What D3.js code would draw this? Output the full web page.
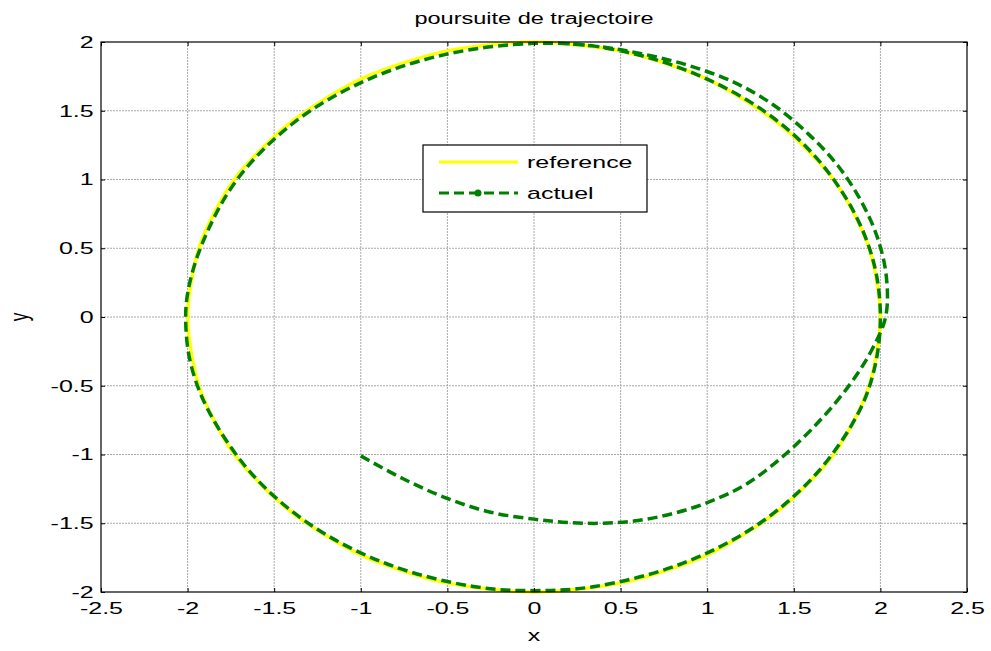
<!DOCTYPE html>
<html>
<head>
<meta charset="utf-8">
<script src="https://cdn.jsdelivr.net/npm/d3@7"></script>
<style>
body { margin: 0; background: #fff; }
text { font-family: "Liberation Sans", Arial, sans-serif; fill: #000; }
</style>
</head>
<body>
<div id="graphe"></div>
<script>
// trajectoire de reference (cercle de rayon 2)
var refX = [2.00, 1.93, 1.73, 1.41, 1.00, 0.52, 0.00, -0.52, -1.00, -1.41, -1.73, -1.93,
            -2.00, -1.93, -1.73, -1.41, -1.00, -0.52, 0.00, 0.52, 1.00, 1.41, 1.73, 1.93];
var refY = [0.00, 0.52, 1.00, 1.41, 1.73, 1.93, 2.00, 1.93, 1.73, 1.41, 1.00, 0.52,
            0.00, -0.52, -1.00, -1.41, -1.73, -1.93, -2.00, -1.93, -1.73, -1.41, -1.00, -0.52];

// trajectoire actuelle
var actuelX = [-1.00, -0.75, -0.50, -0.25, 0.00, 0.20, 0.40, 0.60, 0.80, 1.00, 1.22, 1.45, 1.66, 1.83, 1.95,
               2.03, 2.035, 1.985, 1.89, 1.755, 1.585, 1.385, 1.15, 0.89, 0.62, 0.35, 0.00,
               -0.51, -0.99, -1.40, -1.72, -1.92, -2.00, -2.01, -1.98, -1.88,
               -1.63, -1.28, -0.84, -0.35, 0.00, 0.35, 0.84, 1.28, 1.63, 1.88, 1.97,
               2.00, 1.97, 1.88, 1.73, 1.53, 1.29, 1.00, 0.68, 0.35, 0.17];
var actuelY = [-1.01, -1.18, -1.32, -1.42, -1.47, -1.495, -1.50, -1.48, -1.43, -1.35, -1.22, -1.00, -0.74, -0.48, -0.24,
               0.00, 0.285, 0.57, 0.84, 1.10, 1.33, 1.54, 1.71, 1.83, 1.915, 1.97, 1.99,
               1.91, 1.71, 1.40, 0.99, 0.52, 0.17, -0.07, -0.35, -0.68,
               -1.14, -1.52, -1.80, -1.96, -1.99, -1.96, -1.80, -1.52, -1.14, -0.68, -0.35,
               0.00, 0.35, 0.68, 1.00, 1.29, 1.53, 1.73, 1.88, 1.97, 1.99];

var ticksX = [-2.5, -2, -1.5, -1, -0.5, 0, 0.5, 1, 1.5, 2, 2.5];
var labelsX = ["-2.5", "-2", "-1.5", "-1", "-0.5", "0", "0.5", "1", "1.5", "2", "2.5"];
var ticksY = [-2, -1.5, -1, -0.5, 0, 0.5, 1, 1.5, 2];
var labelsY = ["-2", "-1.5", "-1", "-0.5", "0", "0.5", "1", "1.5", "2"];

var titre = "poursuite de trajectoire";
var nomsSeries = ["reference", "actuel"];

var largeur = 991, hauteur = 651;
var gauche = 101, droite = 967, haut = 42, bas = 592;
var etire = 1.47; // le texte de la figure est etire horizontalement

var svg = d3.select("#graphe").append("svg").attr("width", largeur).attr("height", hauteur);

var x = d3.scaleLinear().domain([-2.5, 2.5]).range([gauche, droite]);
var y = d3.scaleLinear().domain([-2, 2]).range([bas, haut]);

// grille pointillee
var grille = svg.append("g");
grille.selectAll(".gx").data(ticksX.slice(1, -1)).enter().append("line")
    .attr("x1", d => x(d)).attr("x2", d => x(d)).attr("y1", haut).attr("y2", bas)
    .attr("stroke", "#a8a8a8").attr("stroke-width", 1).attr("stroke-dasharray", "2,1");
grille.selectAll(".gy").data(ticksY.slice(1, -1)).enter().append("line")
    .attr("y1", d => y(d)).attr("y2", d => y(d)).attr("x1", gauche).attr("x2", droite)
    .attr("stroke", "#a8a8a8").attr("stroke-width", 1).attr("stroke-dasharray", "2,1");

// courbes
var refPts = refX.map((v, i) => [v, refY[i]]);
var actPts = actuelX.map((v, i) => [v, actuelY[i]]);

svg.append("path").datum(refPts)
    .attr("d", d3.line().x(d => x(d[0])).y(d => y(d[1])).curve(d3.curveCardinalClosed.tension(0.2)))
    .attr("fill", "none").attr("stroke", "#ffff00").attr("stroke-width", 3.5);

svg.append("path").datum(actPts)
    .attr("d", d3.line().x(d => x(d[0])).y(d => y(d[1])).curve(d3.curveCatmullRom.alpha(0.5)))
    .attr("fill", "none").attr("stroke", "#008000").attr("stroke-width", 3.5)
    .attr("stroke-dasharray", "10,5");

// axes (graduations vers l'interieur)
function styleAxe(g) {
    g.select(".domain").remove();
    g.selectAll(".tick line").attr("stroke", "#000");
    g.selectAll("text").attr("font-size", "17px").attr("font-family", "Liberation Sans, Arial, sans-serif")
        .attr("fill", "#000");
}

var axeBas = svg.append("g").attr("transform", "translate(0," + bas + ")")
    .call(d3.axisBottom(x).tickValues(ticksX).tickFormat((d, i) => labelsX[i]).tickSizeInner(-4).tickSizeOuter(0).tickPadding(10));
styleAxe(axeBas);
axeBas.selectAll("text").attr("transform", "scale(" + etire + ",1)");

var axeGauche = svg.append("g").attr("transform", "translate(" + gauche + ",0)")
    .call(d3.axisLeft(y).tickValues(ticksY).tickFormat((d, i) => labelsY[i]).tickSizeInner(-4).tickSizeOuter(0).tickPadding(5));
styleAxe(axeGauche);
axeGauche.selectAll("text").attr("transform", "scale(" + etire + ",1)");

var axeHaut = svg.append("g").attr("transform", "translate(0," + haut + ")")
    .call(d3.axisTop(x).tickValues(ticksX).tickFormat("").tickSizeInner(-4).tickSizeOuter(0));
styleAxe(axeHaut);

var axeDroit = svg.append("g").attr("transform", "translate(" + droite + ",0)")
    .call(d3.axisRight(y).tickValues(ticksY).tickFormat("").tickSizeInner(-4).tickSizeOuter(0));
styleAxe(axeDroit);

// cadre
svg.append("rect").attr("x", gauche).attr("y", haut).attr("width", droite - gauche).attr("height", bas - haut)
    .attr("fill", "none").attr("stroke", "#000").attr("stroke-width", 1.2);

// titres
svg.append("text").attr("transform", "translate(" + (gauche + droite) / 2 + ",24) scale(" + etire + ",1)")
    .attr("text-anchor", "middle").attr("font-size", "16px").text(titre);
svg.append("text").attr("transform", "translate(" + (gauche + droite) / 2 + ",641) scale(" + etire + ",1)")
    .attr("text-anchor", "middle").attr("font-size", "17px").text("x");
svg.append("text").attr("transform", "translate(28," + (haut + bas) / 2 + ") scale(" + etire + ",1) rotate(-90)")
    .attr("text-anchor", "middle").attr("font-size", "17px").text("y");

// legende
var leg = svg.append("g").attr("transform", "translate(423,145)");
leg.append("rect").attr("width", 224).attr("height", 67).attr("fill", "#fff")
    .attr("stroke", "#000").attr("stroke-width", 1.2);
leg.append("line").attr("x1", 16).attr("x2", 95).attr("y1", 17).attr("y2", 17)
    .attr("stroke", "#ffff00").attr("stroke-width", 3);
leg.append("line").attr("x1", 16).attr("x2", 95).attr("y1", 48).attr("y2", 48)
    .attr("stroke", "#008000").attr("stroke-width", 3).attr("stroke-dasharray", "10,5");
leg.append("circle").attr("cx", 55).attr("cy", 48).attr("r", 3.5).attr("fill", "#008000");
leg.selectAll(".nom").data(nomsSeries).enter().append("text")
    .attr("transform", (d, i) => "translate(104," + (23 + i * 31) + ") scale(" + etire + ",1)")
    .attr("font-size", "17px").text(d => d);
</script>
</body>
</html>
